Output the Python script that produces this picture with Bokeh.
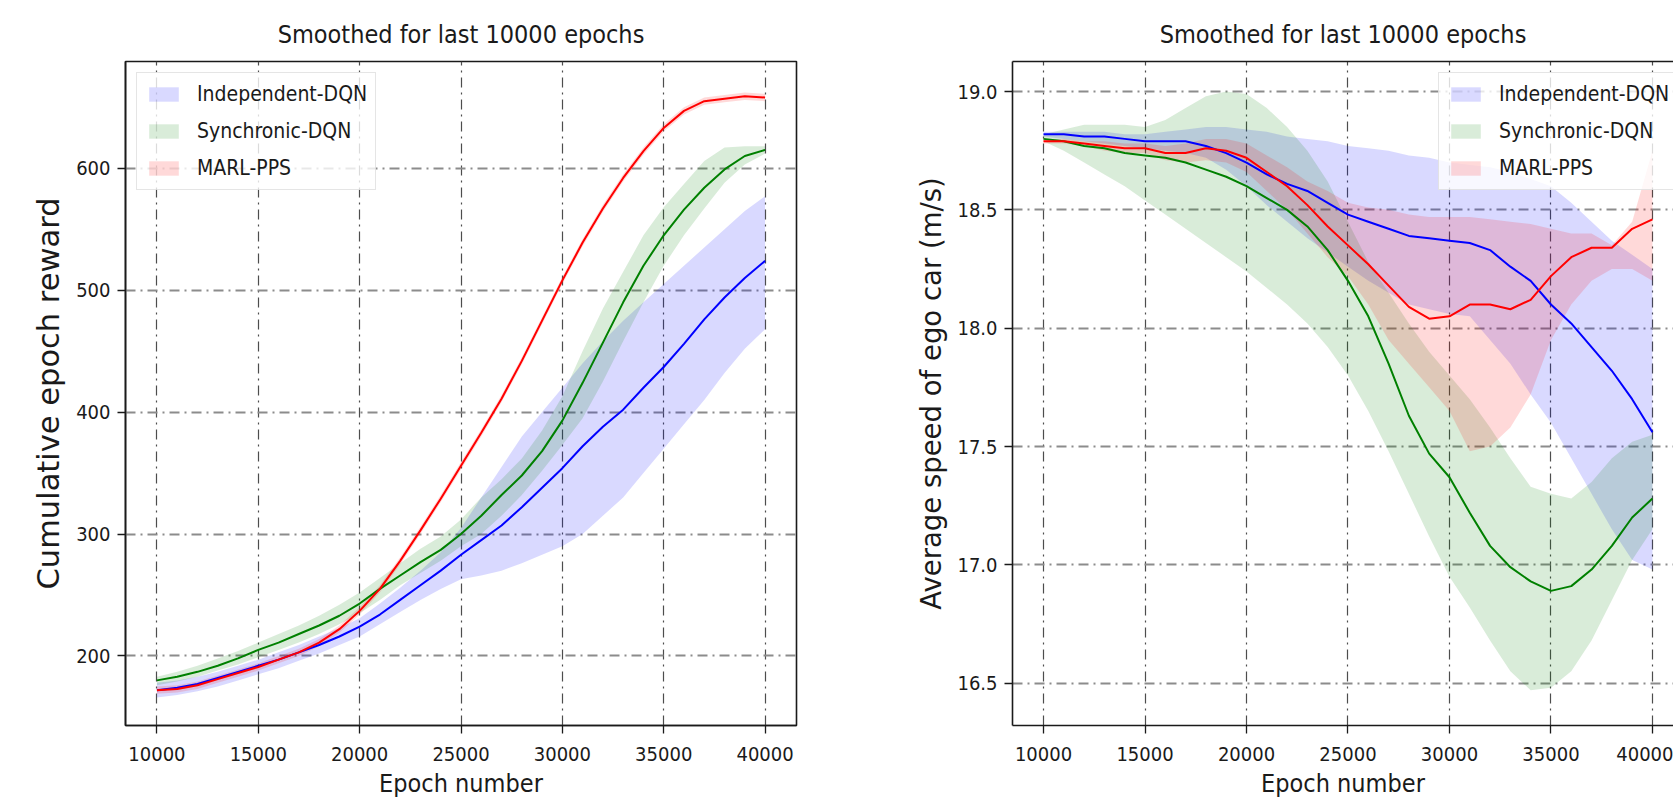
from bokeh.plotting import figure
from bokeh.models import Range1d, FixedTicker, Legend, LegendItem, NumeralTickFormatter, LinearAxis
from bokeh.layouts import row
from bokeh.embed import file_html
from bokeh.resources import INLINE

# ---------------- data ----------------
epochs = [10000, 11000, 12000, 13000, 14000, 15000, 16000, 17000, 18000, 19000, 20000,
          21000, 22000, 23000, 24000, 25000, 26000, 27000, 28000, 29000, 30000,
          31000, 32000, 33000, 34000, 35000, 36000, 37000, 38000, 39000, 40000]

series_names = ["Independent-DQN", "Synchronic-DQN", "MARL-PPS"]
x_ticks = [10000, 15000, 20000, 25000, 30000, 35000, 40000]
reward_ticks = [200, 300, 400, 500, 600]
speed_ticks = [16.5, 17.0, 17.5, 18.0, 18.5, 19.0]

# cumulative epoch reward
r_blue_mean = [172, 174, 177, 182, 187, 192, 197, 203, 209, 216, 224, 234, 246, 258, 270, 283, 295, 307, 322, 338, 354, 372, 388, 402, 420, 437, 456, 476, 494, 510, 524]
r_blue_lo = [166, 168, 171, 175, 180, 185, 190, 196, 202, 209, 216, 226, 236, 246, 255, 263, 266, 270, 276, 283, 290, 300, 315, 330, 350, 370, 390, 410, 432, 452, 468]
r_blue_hi = [178, 180, 183, 187, 192, 197, 203, 209, 216, 223, 231, 243, 256, 270, 285, 305, 330, 355, 380, 400, 420, 440, 458, 475, 490, 505, 520, 535, 550, 565, 577]

r_green_mean = [180, 183, 187, 192, 198, 205, 211, 218, 225, 233, 243, 255, 266, 277, 287, 300, 315, 332, 348, 368, 393, 424, 457, 490, 520, 545, 566, 584, 599, 610, 615]
r_green_lo = [176, 179, 183, 188, 193, 199, 205, 211, 218, 226, 235, 246, 258, 268, 278, 290, 300, 315, 332, 352, 373, 395, 425, 458, 490, 520, 545, 567, 588, 603, 612]
r_green_hi = [183, 187, 192, 198, 204, 211, 218, 225, 233, 242, 252, 264, 276, 288, 298, 312, 330, 345, 362, 385, 413, 450, 485, 515, 545, 568, 587, 606, 617, 618, 618]

r_red_mean = [172, 173, 176, 181, 186, 191, 197, 203, 211, 222, 237, 255, 278, 303, 329, 356, 383, 411, 442, 475, 508, 539, 567, 592, 614, 633, 647, 655, 657, 659, 658]
r_red_lo = [169, 170, 173, 178, 183, 188, 194, 200, 208, 219, 234, 252, 275, 300, 326, 353, 380, 408, 439, 472, 505, 536, 564, 589, 611, 630, 644, 652, 654, 656, 655]
r_red_hi = [175, 176, 179, 184, 189, 194, 200, 206, 214, 225, 240, 258, 281, 306, 332, 359, 386, 414, 445, 478, 511, 542, 570, 595, 617, 636, 650, 658, 660, 662, 661]

# average speed of ego car
s_blue_mean = [18.82, 18.82, 18.81, 18.81, 18.80, 18.79, 18.79, 18.79, 18.77, 18.74, 18.70, 18.65, 18.61, 18.58, 18.53, 18.48, 18.45, 18.42, 18.39, 18.38, 18.37, 18.36, 18.33, 18.26, 18.20, 18.10, 18.02, 17.92, 17.82, 17.70, 17.56]
s_blue_hi = [18.83, 18.83, 18.83, 18.83, 18.82, 18.82, 18.83, 18.84, 18.85, 18.85, 18.84, 18.83, 18.81, 18.80, 18.79, 18.77, 18.76, 18.75, 18.73, 18.72, 18.70, 18.69, 18.68, 18.66, 18.63, 18.60, 18.53, 18.45, 18.37, 18.31, 18.25]
s_blue_lo = [18.81, 18.80, 18.79, 18.78, 18.77, 18.76, 18.75, 18.74, 18.72, 18.67, 18.60, 18.52, 18.45, 18.38, 18.32, 18.26, 18.20, 18.15, 18.10, 18.08, 18.06, 18.05, 17.95, 17.85, 17.72, 17.60, 17.45, 17.30, 17.15, 17.02, 16.98]

s_green_mean = [18.80, 18.79, 18.77, 18.76, 18.74, 18.73, 18.72, 18.70, 18.67, 18.64, 18.60, 18.55, 18.50, 18.43, 18.33, 18.20, 18.05, 17.85, 17.63, 17.47, 17.37, 17.22, 17.08, 16.99, 16.93, 16.89, 16.91, 16.98, 17.08, 17.20, 17.28]
s_green_hi = [18.82, 18.84, 18.86, 18.86, 18.86, 18.85, 18.88, 18.93, 18.98, 19.00, 18.99, 18.93, 18.85, 18.75, 18.62, 18.45, 18.28, 18.15, 18.02, 17.90, 17.80, 17.70, 17.58, 17.45, 17.33, 17.30, 17.28, 17.35, 17.45, 17.52, 17.55]
s_green_lo = [18.79, 18.75, 18.70, 18.65, 18.60, 18.54, 18.48, 18.42, 18.36, 18.30, 18.24, 18.17, 18.10, 18.02, 17.92, 17.80, 17.65, 17.48, 17.30, 17.12, 16.95, 16.82, 16.68, 16.55, 16.47, 16.48, 16.55, 16.68, 16.85, 17.02, 17.15]

s_red_mean = [18.79, 18.79, 18.78, 18.77, 18.76, 18.76, 18.74, 18.74, 18.76, 18.75, 18.72, 18.66, 18.60, 18.52, 18.43, 18.35, 18.27, 18.18, 18.09, 18.04, 18.05, 18.10, 18.10, 18.08, 18.12, 18.22, 18.30, 18.34, 18.34, 18.42, 18.46]
s_red_hi = [18.80, 18.80, 18.79, 18.79, 18.78, 18.78, 18.77, 18.78, 18.80, 18.80, 18.78, 18.73, 18.68, 18.62, 18.58, 18.53, 18.51, 18.50, 18.48, 18.47, 18.47, 18.47, 18.46, 18.45, 18.44, 18.42, 18.40, 18.40, 18.35, 18.45, 18.75]
s_red_lo = [18.78, 18.78, 18.77, 18.75, 18.74, 18.74, 18.71, 18.70, 18.71, 18.70, 18.66, 18.58, 18.50, 18.40, 18.30, 18.22, 18.10, 17.95, 17.85, 17.75, 17.65, 17.48, 17.50, 17.58, 17.72, 17.95, 18.10, 18.20, 18.25, 18.25, 18.20]

# ---------------- style ----------------
COND = "DejaVu Sans Condensed"
LINE_COLORS = ["#0000ff", "#008000", "#ff0000"]
FILL_ALPHA = 0.15
TITLE = "Smoothed for last 10000 epochs"
XLABEL = "Epoch number"


def style_fig(p, ylabel, ylabel_size, yticks):
    p.title.text = TITLE
    p.title.align = "center"
    p.title.text_font = COND
    p.title.text_font_size = "25px"
    p.title.text_font_style = "normal"
    p.title.text_color = "#1a1a1a"
    p.title.standoff = 25

    p.xaxis.ticker = FixedTicker(ticks=x_ticks)
    p.yaxis.ticker = FixedTicker(ticks=yticks)
    p.xaxis.axis_label = XLABEL
    p.yaxis.axis_label = ylabel
    for ax in (p.xaxis[0], p.yaxis[0]):
        ax.major_label_text_font = COND
        ax.major_label_text_font_size = "20px"
        ax.major_label_text_color = "#1a1a1a"
        ax.major_tick_out = 8
        ax.major_tick_in = 0
        ax.minor_tick_out = 0
        ax.minor_tick_in = 0
        ax.major_tick_line_color = "#1a1a1a"
        ax.major_tick_line_width = 1.3
        ax.axis_line_color = "#1a1a1a"
        ax.axis_line_width = 1.6
        ax.axis_label_text_font_style = "normal"
        ax.axis_label_text_color = "#1a1a1a"
    p.xaxis.major_label_standoff = 13
    p.yaxis.major_label_standoff = 7
    p.xaxis.axis_label_text_font = COND
    p.xaxis.axis_label_text_font_size = "25px"
    p.xaxis.axis_label_standoff = 5
    p.xaxis.axis_label_text_line_height = 0.8
    p.yaxis.axis_label_text_font = "DejaVu Sans"
    p.yaxis.axis_label_text_font_size = ylabel_size
    p.yaxis.axis_label_standoff = 7

    p.xgrid.ticker = FixedTicker(ticks=x_ticks)
    p.ygrid.ticker = FixedTicker(ticks=yticks)
    p.xgrid.grid_line_color = "#4d4d4d"
    p.xgrid.grid_line_width = 1.2
    p.xgrid.grid_line_dash = "10 5 2 5"
    p.ygrid.grid_line_color = "#8c8c8c"
    p.ygrid.grid_line_width = 1.8
    p.ygrid.grid_line_dash = "10 5 2 5"
    p.background_fill_color = "white"
    p.border_fill_color = "white"


def draw_series(p, means, los, his):
    fills = []
    for lo, hi, color in zip(los, his, LINE_COLORS):
        r = p.varea(x=epochs, y1=lo, y2=hi, fill_color=color, fill_alpha=FILL_ALPHA)
        fills.append(r)
    for mean, color in zip(means, LINE_COLORS):
        p.line(x=epochs, y=mean, line_color=color, line_width=2)
    return fills


def add_legend(p, fills, location):
    items = [LegendItem(label=name, renderers=[r]) for name, r in zip(series_names, fills)]
    lg = Legend(items=items, location=location)
    lg.label_text_font = COND
    lg.label_text_font_size = "21px"
    lg.label_text_color = "#1a1a1a"
    lg.glyph_width = 37
    lg.glyph_height = 18
    lg.label_height = 26
    lg.spacing = 11
    lg.padding = 8
    lg.label_standoff = 15
    lg.margin = 11
    lg.border_line_color = "#cccccc"
    lg.border_line_width = 1.2
    lg.background_fill_color = "white"
    lg.background_fill_alpha = 0.8
    p.add_layout(lg)


# ---------------- left chart ----------------
p1 = figure(width=900, height=800,
            x_range=Range1d(8450, 41550), y_range=Range1d(143, 687.5),
            output_backend="svg", toolbar_location=None,
            min_border_left=125, min_border_right=104, min_border_top=61, min_border_bottom=73)
style_fig(p1, "Cumulative epoch reward", "30.5px", reward_ticks)
p1.outline_line_color = "#1a1a1a"
p1.outline_line_width = 1.6
f1 = draw_series(p1, [r_blue_mean, r_green_mean, r_red_mean],
                 [r_blue_lo, r_green_lo, r_red_lo], [r_blue_hi, r_green_hi, r_red_hi])
add_legend(p1, f1, "top_left")

# ---------------- right chart ----------------
p2 = figure(width=773, height=800,
            x_range=Range1d(8472, 41037), y_range=Range1d(16.321, 19.127),
            output_backend="svg", toolbar_location=None,
            min_border_left=112, min_border_right=0, min_border_top=61, min_border_bottom=73)
style_fig(p2, "Average speed of ego car (m/s)", "27.5px", speed_ticks)
p2.yaxis.formatter = NumeralTickFormatter(format="0.0")
p2.outline_line_color = None
top_axis = LinearAxis(ticker=FixedTicker(ticks=[]), major_label_text_font_size="0px",
                      major_tick_out=0, major_tick_in=0, minor_tick_out=0, minor_tick_in=0,
                      axis_line_color="#1a1a1a", axis_line_width=1.6)
p2.add_layout(top_axis, "above")
f2 = draw_series(p2, [s_blue_mean, s_green_mean, s_red_mean],
                 [s_blue_lo, s_green_lo, s_red_lo], [s_blue_hi, s_green_hi, s_red_hi])
add_legend(p2, f2, (426, 535))

layout = row(p1, p2)
open("out.html", "w").write(file_html(layout, INLINE))
